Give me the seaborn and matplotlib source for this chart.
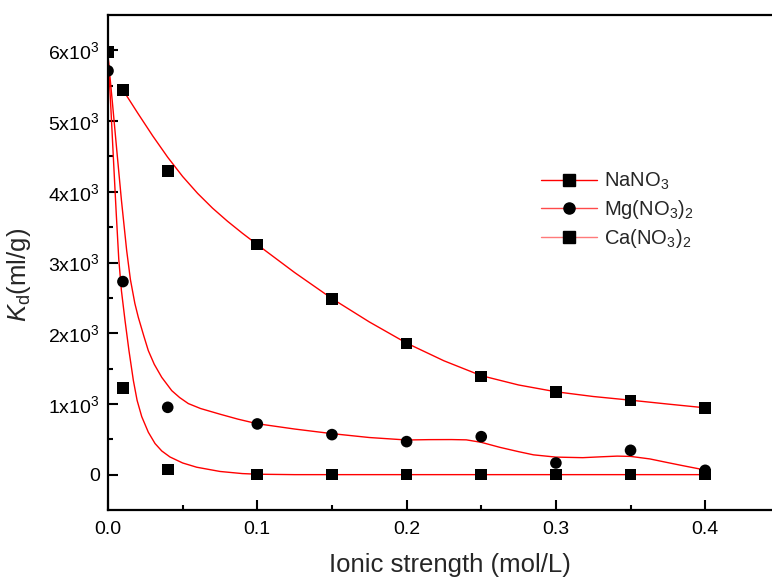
import matplotlib
matplotlib.use("Agg")
import matplotlib.pyplot as plt
from matplotlib.lines import Line2D
import seaborn as sns
import pandas as pd

# Measured distribution coefficients
ionic_strength = [0.0, 0.01, 0.04, 0.10, 0.15, 0.20, 0.25, 0.30, 0.35, 0.40]
kd_nano3 = [5980, 5440, 4290, 3255, 2485, 1857, 1386, 1165, 1047, 940]
kd_mgno3 = [5710, 2730, 952, 717, 566, 467, 537, 165, 344, 61]
kd_cano3 = [5980, 1226, 71, 0, 0, 0, 0, 0, 0, 0]

# Fitted curves (sampled along the fit)
fit_nano3_x = [0.01, 0.02, 0.03, 0.04, 0.05, 0.06, 0.07, 0.08, 0.09, 0.10,
               0.125, 0.15, 0.175, 0.20, 0.225, 0.25, 0.275, 0.30, 0.325, 0.35,
               0.375, 0.40]
fit_nano3_y = [5440, 5110, 4789, 4488, 4216, 3978, 3769, 3584, 3414, 3253,
               2858, 2490, 2160, 1860, 1610, 1400, 1268, 1172, 1105, 1053,
               998, 945]

fit_mgno3_x = [0.0, 0.003, 0.006, 0.009, 0.0125, 0.015, 0.018, 0.0203, 0.024, 0.027,
               0.031, 0.036, 0.0427, 0.048, 0.0538, 0.062, 0.075, 0.087, 0.10, 0.125,
               0.15, 0.175, 0.20, 0.215, 0.23, 0.24, 0.25, 0.2625, 0.275, 0.285,
               0.30, 0.318, 0.33, 0.341, 0.35, 0.363, 0.374, 0.385, 0.40]
fit_mgno3_y = [5920, 5250, 4560, 3880, 3170, 2760, 2420, 2225, 1960, 1754,
               1560, 1376, 1188, 1090, 1005, 935, 855, 785, 720, 645,
               580, 525, 490, 495, 496, 492, 457, 386, 325, 280,
               248, 240, 252, 262, 258, 222, 174, 127, 65]

fit_cano3_x = [0.0, 0.002, 0.0036, 0.0055, 0.0072, 0.009, 0.0114, 0.014, 0.017, 0.0195,
               0.0226, 0.027, 0.0315, 0.036, 0.0415, 0.05, 0.0594, 0.075, 0.09, 0.10,
               0.125, 0.15, 0.20, 0.25, 0.30, 0.35, 0.40]
fit_cano3_y = [5950, 5150, 4480, 3700, 3050, 2600, 2180, 1760, 1330, 1050,
               820, 600, 440, 335, 250, 165, 105, 45, 15, 6,
               0, 0, 0, 0, 0, 0, 0]

series_labels = ["NaNO$_3$", "Mg(NO$_3$)$_2$", "Ca(NO$_3$)$_2$"]
y_ticks = [0, 1000, 2000, 3000, 4000, 5000, 6000]
y_tick_labels = ["0", "1x10$^3$", "2x10$^3$", "3x10$^3$", "4x10$^3$", "5x10$^3$", "6x10$^3$"]
x_ticks = [0.0, 0.1, 0.2, 0.3, 0.4]
x_tick_labels = ["0.0", "0.1", "0.2", "0.3", "0.4"]

sns.set_style("ticks")
plt.rcParams.update({
    "font.family": ["Liberation Sans", "DejaVu Sans"],
    "mathtext.fontset": "custom",
    "mathtext.rm": "Liberation Sans",
    "mathtext.it": "Liberation Sans:italic",
    "mathtext.default": "regular",
})

fig = plt.figure(figsize=(7.72, 5.80), dpi=100)
ax = fig.add_axes([108 / 772, 70 / 580, 746.5 / 772, 495 / 580])

points = pd.concat([
    pd.DataFrame({"I": ionic_strength, "Kd": kd_nano3, "salt": "NaNO3"}),
    pd.DataFrame({"I": ionic_strength, "Kd": kd_mgno3, "salt": "Mg"}),
    pd.DataFrame({"I": ionic_strength, "Kd": kd_cano3, "salt": "Ca"}),
])

fits = [(fit_nano3_x, fit_nano3_y), (fit_mgno3_x, fit_mgno3_y), (fit_cano3_x, fit_cano3_y)]
for fx, fy in fits:
    sns.lineplot(x=fx, y=fy, ax=ax, color="#ff0000", linewidth=1.0,
                 sort=False, estimator=None, legend=False)

sns.scatterplot(data=points, x="I", y="Kd", style="salt",
                markers={"NaNO3": "s", "Mg": "o", "Ca": "s"},
                color="black", s=70, linewidth=0, ax=ax, legend=False, zorder=3)

ax.set_xlim(0.0, 0.5)
ax.set_ylim(-500, 6500)
ax.set_xticks(x_ticks)
ax.set_xticks([0.05, 0.15, 0.25, 0.35, 0.45], minor=True)
ax.set_yticks(y_ticks)
ax.set_yticks([500, 1500, 2500, 3500, 4500, 5500], minor=True)
ax.set_xticklabels(x_tick_labels)
ax.set_yticklabels(y_tick_labels)

ax.tick_params(axis="both", which="both", direction="in",
               left=True, bottom=True, top=False, right=False)
ax.tick_params(axis="both", which="major", length=7, width=1.5, pad=6, color="black")
ax.tick_params(axis="both", which="minor", length=3.6, width=1.5, color="black")
ax.tick_params(axis="both", which="major", labelsize=14, labelcolor="black")
ax.tick_params(axis="x", which="major", pad=8)

for side in ["left", "bottom", "top", "right"]:
    ax.spines[side].set_linewidth(1.6)
    ax.spines[side].set_color("black")

ax.set_xlabel("Ionic strength (mol/L)", fontsize=18.5)
ax.set_ylabel("$\\mathit{K}_d$(ml/g)", fontsize=18.5)
ax.xaxis.set_label_coords(0.458, -0.086)
ax.yaxis.set_label_coords(-0.100, 0.475)

handle_colors = ["#ff0000", "#ff4a4a", "#ff7a7a"]
handle_markers = ["s", "o", "s"]
handles = [Line2D([0], [0], color=c, linewidth=1.0, marker=m, markersize=8,
                  markerfacecolor="black", markeredgecolor="black")
           for c, m in zip(handle_colors, handle_markers)]
fig.legend(handles, series_labels, loc="upper left",
           bbox_to_anchor=(541 / 772, 1 - 171 / 580), frameon=False,
           fontsize=14.5, handlelength=2.8, handletextpad=0.35,
           labelspacing=0.3, borderpad=0, borderaxespad=0)

fig.savefig("out.png", dpi=100)
